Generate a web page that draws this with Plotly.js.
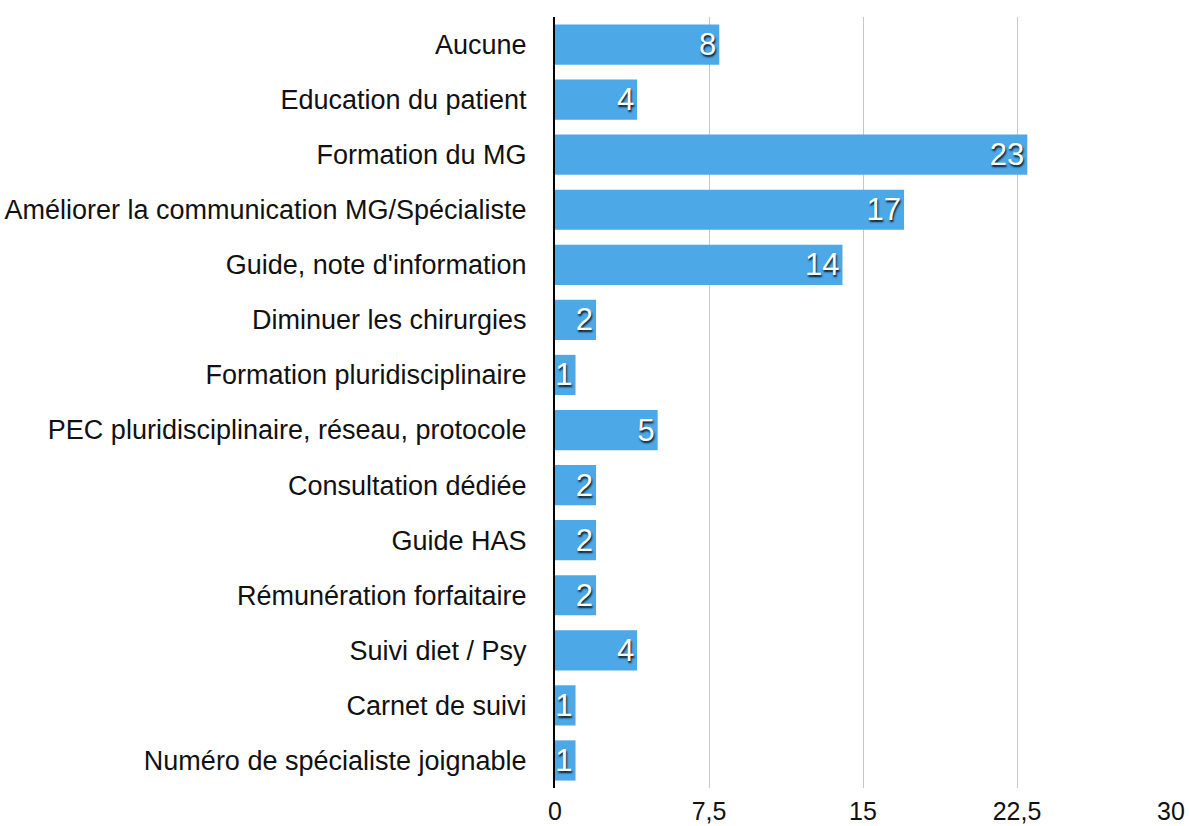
<!DOCTYPE html>
<html><head><meta charset="utf-8">
<script src="https://cdn.plot.ly/plotly-3.0.1.min.js"></script>
<style>html,body{margin:0;padding:0;background:#fff}#chart{width:1189px;height:826px}</style>
</head><body><div id="chart"></div>
<script>
const categories = ["Aucune","Education du patient","Formation du MG","Améliorer la communication MG/Spécialiste","Guide, note d'information","Diminuer les chirurgies","Formation pluridisciplinaire","PEC pluridisciplinaire, réseau, protocole","Consultation dédiée","Guide HAS","Rémunération forfaitaire","Suivi diet / Psy","Carnet de suivi","Numéro de spécialiste joignable"];
const values = [8,4,23,17,14,2,1,5,2,2,2,4,1,1];
const tickVals = [0,7.5,15,22.5,30];
const tickLabels = ["0","7,5","15","22,5","30"];

const trace = {
  type:'bar', orientation:'h', y:categories, x:values,
  marker:{color:'#4CA8E6'},
  text:values.map(String), textposition:'inside', insidetextanchor:'end', textangle:0,
  textfont:{family:'Liberation Sans, Arial, sans-serif', size:31, color:'#ffffff', shadow:'1px 2px 2px rgba(0,0,0,0.85)'},
  constraintext:'none', cliponaxis:false, hoverinfo:'none'
};
const layout = {
  width:1189, height:826,
  margin:{l:555, r:18, t:17, b:38},
  paper_bgcolor:'#fff', plot_bgcolor:'#fff',
  bargap:0.27, showlegend:false,
  font:{family:'Liberation Sans, Arial, sans-serif', size:27, color:'#111'},
  xaxis:{range:[0,30], tickvals:tickVals, ticktext:tickLabels, showgrid:true, gridcolor:'#c8c8c8', gridwidth:1,
    zeroline:false, showline:false, ticks:'', ticklabelstandoff:6, tickfont:{size:25}, fixedrange:true},
  yaxis:{autorange:'reversed', showline:true, linecolor:'#000', linewidth:2, showgrid:false, zeroline:false,
    ticks:'', ticklabelstandoff:21, tickfont:{size:27}, fixedrange:true}
};
Plotly.newPlot('chart',[trace],layout,{staticPlot:true});
</script></body></html>
